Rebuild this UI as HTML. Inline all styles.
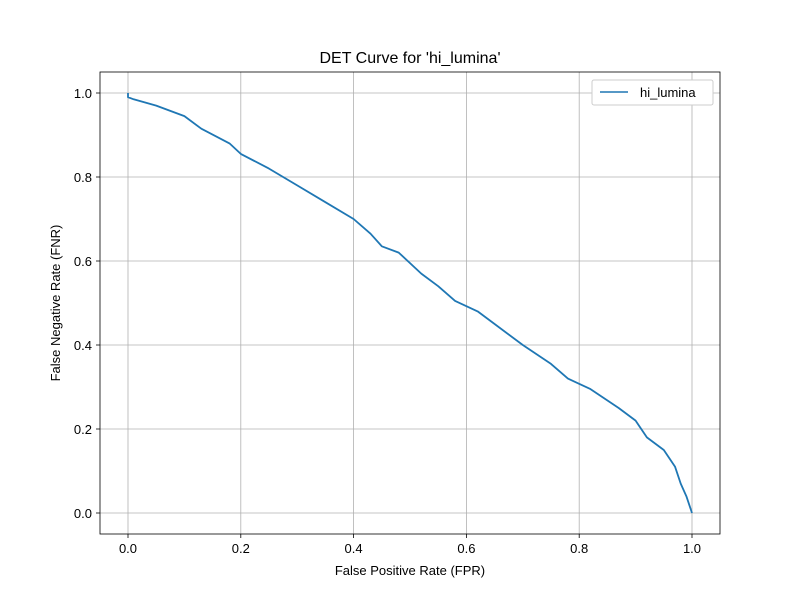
<!DOCTYPE html>
<html><head><meta charset="utf-8"><style>
body{margin:0;background:#fff;}
svg text{font-family:"Liberation Sans","DejaVu Sans",sans-serif;}
</style></head><body>
<svg width="800" height="600" xmlns="http://www.w3.org/2000/svg">
<rect width="800" height="600" fill="#fff"/>
<g id="grid"></g>
<g id="ticks"></g>
<path id="curve" fill="none" stroke="#1f77b4" stroke-width="1.8" stroke-linejoin="round"/>
<rect x="100" y="72" width="620" height="462" fill="none" stroke="#000" stroke-width="0.8"/>
<text x="410" y="63" font-size="16" text-anchor="middle">DET Curve for 'hi_lumina'</text>
<text x="410" y="575" font-size="13" text-anchor="middle">False Positive Rate (FPR)</text>
<text x="0" y="0" font-size="13" text-anchor="middle" transform="translate(60,303) rotate(-90)">False Negative Rate (FNR)</text>
<g>
<rect x="592" y="80" width="121" height="25" fill="#fff" stroke="#ccc" rx="2"/>
<line x1="600" y1="92" x2="628" y2="92" stroke="#1f77b4" stroke-width="1.5"/>
<text x="640" y="97" font-size="13">hi_lumina</text>
</g>
</svg>
<script>
const fpr=[0,0,0.01,0.05,0.1,0.13,0.18,0.2,0.25,0.3,0.35,0.4,0.43,0.45,0.48,0.52,0.55,0.58,0.62,0.65,0.7,0.75,0.78,0.82,0.87,0.9,0.92,0.95,0.97,0.98,0.99,1.0];
const fnr=[1.0,0.99,0.985,0.97,0.945,0.915,0.88,0.855,0.82,0.78,0.74,0.70,0.665,0.635,0.62,0.57,0.54,0.505,0.48,0.45,0.40,0.355,0.32,0.295,0.25,0.22,0.18,0.15,0.11,0.07,0.04,0.0];
const xTicks=[0,0.2,0.4,0.6,0.8,1.0];
const yTicks=[0,0.2,0.4,0.6,0.8,1.0];
const xs=v=>128+v*564, ys=v=>513-v*420;
const NS="http://www.w3.org/2000/svg";
const grid=document.getElementById('grid'), tk=document.getElementById('ticks');
function mk(tag,attrs,parent){const e=document.createElementNS(NS,tag);for(const k in attrs)e.setAttribute(k,attrs[k]);parent.appendChild(e);return e;}
xTicks.forEach(v=>{
 const x=xs(v);
 const g=mk('line',{x1:x,x2:x,y1:72,y2:534,stroke:'#b0b0b0','stroke-width':0.8},grid);
 
 
 mk('line',{x1:x,x2:x,y1:534,y2:538,stroke:'#000','stroke-width':0.8},tk);
 const t=mk('text',{x:x,y:553,'font-size':13,'text-anchor':'middle'},tk);
 t.textContent=v.toFixed(1);
 
 
});
yTicks.forEach(v=>{
 const y=ys(v);
 const g=mk('line',{x1:100,x2:720,y1:y,y2:y,stroke:'#b0b0b0','stroke-width':0.8},grid);
 
 
 mk('line',{x1:96,x2:100,y1:y,y2:y,stroke:'#000','stroke-width':0.8},tk);
 const t=mk('text',{x:92,y:y+5,'font-size':13,'text-anchor':'end'},tk);
 t.textContent=v.toFixed(1);
 
 
});
document.getElementById('curve').setAttribute('d',fpr.map((v,i)=>(i?'L':'M')+xs(v)+','+ys(fnr[i])).join(''));
</script>
</body></html>
